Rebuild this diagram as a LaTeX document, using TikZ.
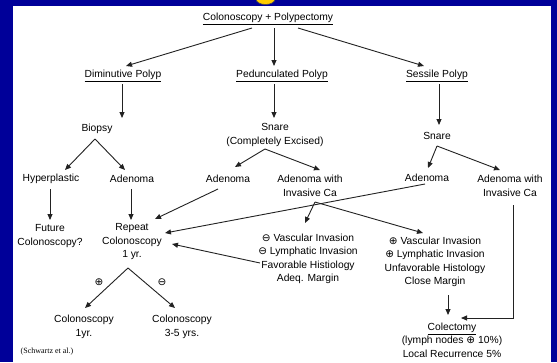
\documentclass[tikz,border=0pt]{standalone}
\usepackage{fontspec}
\setmainfont{Liberation Sans}
\newfontfamily\symf{DejaVu Sans}
\newfontfamily\serf{Liberation Serif}
\usetikzlibrary{arrows.meta}
\definecolor{slideblue}{HTML}{000099}
\definecolor{lnc}{HTML}{222222}
\definecolor{titleyellow}{HTML}{FFCC00}
\newcommand{\cplus}{{\symf\fontsize{10.5}{10}\selectfont ⊕}}
\newcommand{\cminus}{{\symf\fontsize{10.5}{10}\selectfont ⊖}}
\begin{document}
\begin{tikzpicture}[x=1pt,y=-1pt,
  lbl/.style={inner sep=0pt, font=\fontsize{10.3}{13.5}\selectfont, align=center, text=black},
  arr/.style={draw=lnc, line width=0.9pt, -{Triangle[length=6pt,width=5pt]}},
]
\useasboundingbox (0,0) rectangle (557,362);
\fill[slideblue] (0,0) rectangle (557,362);
\fill[white] (13,6) rectangle (551,362);
\filldraw[fill=titleyellow, draw=black!70, line width=0.6pt] (256,-1) arc[start angle=180, end angle=0, x radius=9.5, y radius=5.5] -- cycle;

% nodes
\node[lbl] (title) at (268,19) {\underline{Colonoscopy + Polypectomy}};
\node[lbl] (dim) at (123,76) {\underline{Diminutive Polyp}};
\node[lbl] (ped) at (282,76) {\underline{Pedunculated Polyp}};
\node[lbl] (ses) at (437,76) {\underline{Sessile Polyp}};
\node[lbl] (biopsy) at (97,129) {Biopsy};
\node[lbl] (snare1) at (275,135) {Snare\\(Completely Excised)};
\node[lbl] (snare2) at (437,136) {Snare};
\node[lbl] (hyper) at (51,179) {Hyperplastic};
\node[lbl] (aden1) at (132,179) {Adenoma};
\node[lbl] (aden2) at (228,179) {Adenoma};
\node[lbl] (adinv1) at (310,186) {Adenoma with\\Invasive Ca};
\node[lbl] (aden3) at (427,178) {Adenoma};
\node[lbl] (adinv2) at (510,186) {Adenoma with\\Invasive Ca};
\node[lbl] (future) at (50,236) {Future\\Colonoscopy?};
\node[lbl] (repeat) at (132,242) {Repeat\\Colonoscopy\\1 yr.};
\node[lbl] (leftblk) at (308,259) {\cminus{} Vascular Invasion\\\cminus{} Lymphatic Invasion\\Favorable Histiology\\Adeq. Margin};
\node[lbl] (rightblk) at (435,262) {\cplus{} Vascular Invasion\\\cplus{} Lymphatic Invasion\\Unfavorable Histology\\Close Margin};
\node[lbl] (colect) at (452,340) {\underline{Colectomy}\\(lymph nodes \cplus{} 10\%)\\Local Recurrence 5\%};
\node[lbl] (col1) at (84,327) {Colonoscopy\\1yr.};
\node[lbl] (col2) at (182,327) {Colonoscopy\\3-5 yrs.};
\node[lbl] (plus) at (99,282) {\cplus};
\node[lbl] (minus) at (162,282) {\cminus};
\node[inner sep=0pt, font=\serf\fontsize{8}{8}\selectfont] (cite) at (47,352) {(Schwartz et al.)};

% connectors
\draw[arr] ([shift={(-16,9)}]title.center) -- ([shift={(3,-10)}]dim.center);
\draw[arr] ([shift={(6,9)}]title.center) -- ([shift={(-8,-10)}]ped.center);
\draw[arr] ([shift={(30,9)}]title.center) -- ([shift={(-13,-10)}]ses.center);
\draw[arr] ([shift={(-1,8)}]dim.center) -- ([shift={(25,-11)}]biopsy.center);
\draw[arr] ([shift={(-8,8)}]ped.center) -- ([shift={(-1,-17)}]snare1.center);
\draw[arr] ([shift={(2,8)}]ses.center) -- ([shift={(2,-11)}]snare2.center);
\draw[arr] ([shift={(-2,10)}]biopsy.center) -- ([shift={(14,-9)}]hyper.center);
\draw[arr] ([shift={(-2,10)}]biopsy.center) -- ([shift={(-7,-9)}]aden1.center);
\draw[arr] ([shift={(-10,14)}]snare1.center) -- ([shift={(7,-12)}]aden2.center);
\draw[arr] ([shift={(-10,14)}]snare1.center) -- ([shift={(10,-16)}]adinv1.center);
\draw[arr] ([shift={(0,10)}]snare2.center) -- ([shift={(1,-10)}]aden3.center);
\draw[arr] ([shift={(0,10)}]snare2.center) -- ([shift={(-10,-16)}]adinv2.center);
\draw[arr] ([shift={(-1,10)}]hyper.center) -- ([shift={(0,-16)}]future.center);
\draw[arr] ([shift={(-1,10)}]aden1.center) -- ([shift={(-1,-22)}]repeat.center);
\draw[arr] ([shift={(-10,10)}]aden2.center) -- ([shift={(23,-23)}]repeat.center);
\draw[arr] ([shift={(-2,6)}]aden3.center) -- ([shift={(33,-9)}]repeat.center);
\draw[arr] ([shift={(5,16)}]adinv1.center) -- ([shift={(-3,-36)}]leftblk.center);
\draw[arr] ([shift={(5,16)}]adinv1.center) -- ([shift={(-12,-29)}]rightblk.center);
\draw[arr] ([shift={(-48,4)}]leftblk.center) -- ([shift={(40,2)}]repeat.center);
\draw[arr] ([shift={(13,33)}]rightblk.center) -- ([shift={(-4,-25)}]colect.center);
\draw[arr] ([shift={(3,19)}]adinv2.center) |- ([shift={(9,-22)}]colect.center);
\draw[arr] ([shift={(-4,26)}]repeat.center) -- ([shift={(1,-19)}]col1.center);
\draw[arr] ([shift={(-4,26)}]repeat.center) -- ([shift={(-7,-19)}]col2.center);
\end{tikzpicture}
\end{document}
